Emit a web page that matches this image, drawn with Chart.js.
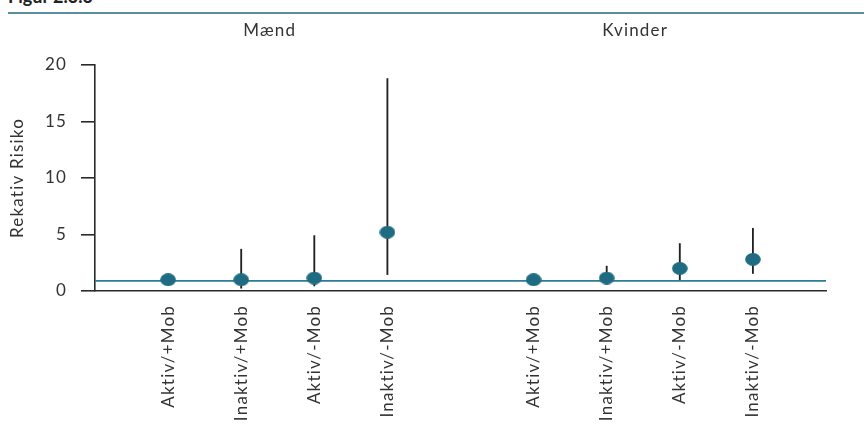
<!DOCTYPE html>
<html>
<head>
<meta charset="utf-8">
<script src="https://cdn.jsdelivr.net/npm/chart.js@4"></script>
<style>
  html, body { margin: 0; padding: 0; background: #fff; }
  #wrap { position: relative; width: 864px; height: 425px; overflow: hidden; }
  #fig { position: absolute; left: 8px; top: -15px; font: bold 18px Lato, sans-serif; color: #222; }
  #rule { position: absolute; left: 8px; right: 0; top: 12px; height: 2px; background: #5b8fa0; }
  canvas { position: absolute; left: 0; top: 0; }
</style>
</head>
<body>
<div id="wrap">
  <div id="fig">Figur 2.3.3</div>
  <div id="rule"></div>
  <canvas id="chart" width="864" height="425"></canvas>
</div>
<script>
// data
const groups = ["Mænd", "Kvinder"];
const categories = ["Aktiv/+Mob", "Inaktiv/+Mob", "Aktiv/-Mob", "Inaktiv/-Mob"];
const maendRR = [1.0, 1.0, 1.15, 5.2];
const maendLow = [null, 0.25, 0.45, 1.45];
const maendHigh = [null, 3.7, 4.9, 18.8];
const kvinderRR = [1.0, 1.15, 2.0, 2.8];
const kvinderLow = [null, 0.7, 1.0, 1.55];
const kvinderHigh = [null, 2.2, 4.2, 5.55];
const refLevel = 0.9;
const yTicks = [0, 5, 10, 15, 20];

// x slots: blank, 4 men, blank, 4 women, blank
const labels = ["", ...categories, "", ...categories, ""];
const rr = [null, ...maendRR, null, ...kvinderRR, null];
const ci = [null, ...maendLow.map((l, i) => l == null ? null : [l, maendHigh[i]]), null,
            ...kvinderLow.map((l, i) => l == null ? null : [l, kvinderHigh[i]]), null];
const ref = labels.map(() => refLevel);

// slightly wide ellipse marker
const dot = document.createElement("canvas");
dot.width = 16; dot.height = 13;
const dctx = dot.getContext("2d");
dctx.fillStyle = "#1f6c82";
dctx.beginPath();
dctx.ellipse(8, 6.5, 7.8, 6.4, 0, 0, Math.PI * 2);
dctx.fill();

const spacing = {
  id: "spacing",
  beforeInit(chart) { chart.ctx.letterSpacing = "1.2px"; },
  beforeDraw(chart) { chart.ctx.letterSpacing = "1.2px"; }
};

const groupTitles = {
  id: "groupTitles",
  afterDraw(chart) {
    const x = chart.scales.x, ctx = chart.ctx;
    ctx.save();
    ctx.font = "17px Lato, sans-serif";
    ctx.fillStyle = "#333";
    ctx.textAlign = "center";
    ctx.textBaseline = "middle";
    [[1, 4], [6, 9]].forEach(([a, b], g) => {
      const cx = (x.getPixelForValue(a) + x.getPixelForValue(b)) / 2 - 8;
      ctx.fillText(groups[g], cx, 31);
    });
    ctx.restore();
  }
};

Chart.defaults.font.family = "Lato, sans-serif";
Chart.defaults.font.size = 17;
Chart.defaults.color = "#333";

new Chart(document.getElementById("chart"), {
  data: {
    labels: labels,
    datasets: [
      {
        type: "scatter",
        data: rr,
        showLine: false,
        pointStyle: dot,
        pointRadius: 7,
        order: 1
      },
      {
        type: "line",
        data: ref,
        borderColor: "#2a7d94",
        borderWidth: 1.6,
        pointRadius: 0,
        order: 2
      },
      {
        type: "bar",
        data: ci,
        backgroundColor: "#222",
        barThickness: 1.2,
        order: 3
      }
    ]
  },
  options: {
    responsive: false,
    animation: false,
    layout: { padding: { top: 65, right: 38, left: 7, bottom: 0 } },
    plugins: { legend: { display: false }, tooltip: { enabled: false } },
    scales: {
      x: {
        type: "category",
        offset: false,
        grid: { drawOnChartArea: false, drawTicks: false },
        border: { color: "#2a2a2a", width: 1.6 },
        ticks: { autoSkip: false, minRotation: 90, maxRotation: 90, padding: 14, color: "#333" },
        afterFit: s => { s.height = 134; }
      },
      y: {
        min: 0,
        max: 20,
        afterBuildTicks: s => { s.ticks = yTicks.map(v => ({ value: v })); },
        grid: { drawOnChartArea: false, drawTicks: true, tickLength: 14, color: "#2a2a2a", lineWidth: 1.6 },
        border: { color: "#2a2a2a", width: 1.6 },
        ticks: { padding: 14, color: "#333" },
        title: { display: true, text: "Rekativ Risiko", color: "#333", padding: 0 },
        afterFit: s => { s.width = 88; }
      }
    }
  },
  plugins: [spacing, groupTitles]
});
</script>
</body>
</html>
